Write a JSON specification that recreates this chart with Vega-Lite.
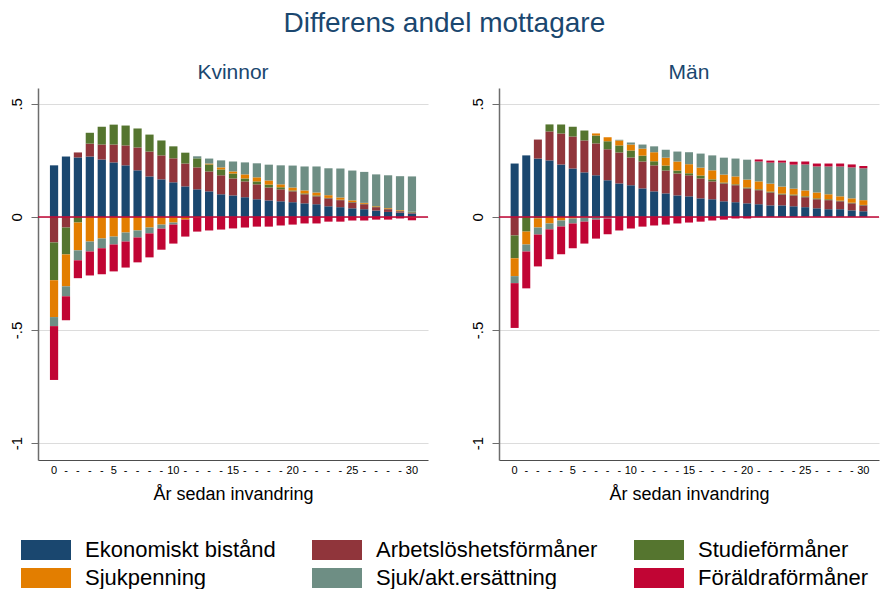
{
  "$schema": "https://vega.github.io/schema/vega-lite/v6.json",
  "padding": {"left": 8, "top": 10, "right": 0, "bottom": 0},
  "title": {"text": "Differens andel mottagare", "fontSize": 28, "fontWeight": "normal", "color": "#1a476f", "anchor": "middle", "offset": 24},
  "datasets": {
    "kat": [
      {"k": "ek", "typ": "Ekonomiskt bistånd", "o": 1},
      {"k": "arb", "typ": "Arbetslöshetsförmåner", "o": 2},
      {"k": "stu", "typ": "Studieförmåner", "o": 3},
      {"k": "sjp", "typ": "Sjukpenning", "o": 4},
      {"k": "sja", "typ": "Sjuk/akt.ersättning", "o": 5},
      {"k": "fo", "typ": "Föräldraförmåner", "o": 6}
    ],
    "d": [
      {"g": "Kvinnor", "ar": 0, "ek": 0.228, "arb": -0.113, "stu": -0.167, "sjp": -0.163, "sja": -0.040, "fo": -0.238},
      {"g": "Kvinnor", "ar": 1, "ek": 0.267, "arb": -0.047, "stu": -0.119, "sjp": -0.141, "sja": -0.044, "fo": -0.106},
      {"g": "Kvinnor", "ar": 2, "ek": 0.263, "arb": 0.022, "stu": -0.025, "sjp": -0.123, "sja": -0.044, "fo": -0.079},
      {"g": "Kvinnor", "ar": 3, "ek": 0.267, "arb": 0.057, "stu": 0.048, "sjp": -0.109, "sja": -0.044, "fo": -0.106},
      {"g": "Kvinnor", "ar": 4, "ek": 0.254, "arb": 0.066, "stu": 0.079, "sjp": -0.095, "sja": -0.044, "fo": -0.115},
      {"g": "Kvinnor", "ar": 5, "ek": 0.241, "arb": 0.079, "stu": 0.088, "sjp": -0.087, "sja": -0.035, "fo": -0.119},
      {"g": "Kvinnor", "ar": 6, "ek": 0.228, "arb": 0.088, "stu": 0.088, "sjp": -0.069, "sja": -0.040, "fo": -0.115},
      {"g": "Kvinnor", "ar": 7, "ek": 0.206, "arb": 0.101, "stu": 0.084, "sjp": -0.060, "sja": -0.031, "fo": -0.110},
      {"g": "Kvinnor", "ar": 8, "ek": 0.179, "arb": 0.110, "stu": 0.075, "sjp": -0.047, "sja": -0.026, "fo": -0.106},
      {"g": "Kvinnor", "ar": 9, "ek": 0.166, "arb": 0.106, "stu": 0.066, "sjp": -0.034, "sja": -0.018, "fo": -0.093},
      {"g": "Kvinnor", "ar": 10, "ek": 0.153, "arb": 0.106, "stu": 0.053, "sjp": -0.025, "sja": -0.009, "fo": -0.084},
      {"g": "Kvinnor", "ar": 11, "ek": 0.135, "arb": 0.101, "stu": 0.048, "sjp": -0.012, "sja": 0, "fo": -0.075},
      {"g": "Kvinnor", "ar": 12, "ek": 0.122, "arb": 0.097, "stu": 0.040, "sjp": -0.003, "sja": 0.009, "fo": -0.062},
      {"g": "Kvinnor", "ar": 13, "ek": 0.113, "arb": 0.088, "stu": 0.031, "sjp": 0.004, "sja": 0.022, "fo": -0.060},
      {"g": "Kvinnor", "ar": 14, "ek": 0.100, "arb": 0.084, "stu": 0.026, "sjp": 0.009, "sja": 0.031, "fo": -0.056},
      {"g": "Kvinnor", "ar": 15, "ek": 0.095, "arb": 0.075, "stu": 0.022, "sjp": 0.009, "sja": 0.044, "fo": -0.051},
      {"g": "Kvinnor", "ar": 16, "ek": 0.087, "arb": 0.070, "stu": 0.013, "sjp": 0.018, "sja": 0.053, "fo": -0.047},
      {"g": "Kvinnor", "ar": 17, "ek": 0.078, "arb": 0.066, "stu": 0.013, "sjp": 0.018, "sja": 0.062, "fo": -0.043},
      {"g": "Kvinnor", "ar": 18, "ek": 0.073, "arb": 0.057, "stu": 0.013, "sjp": 0.018, "sja": 0.070, "fo": -0.043},
      {"g": "Kvinnor", "ar": 19, "ek": 0.069, "arb": 0.053, "stu": 0.009, "sjp": 0.013, "sja": 0.084, "fo": -0.038},
      {"g": "Kvinnor", "ar": 20, "ek": 0.065, "arb": 0.048, "stu": 0.004, "sjp": 0.013, "sja": 0.097, "fo": -0.034},
      {"g": "Kvinnor", "ar": 21, "ek": 0.060, "arb": 0.040, "stu": 0.004, "sjp": 0.013, "sja": 0.106, "fo": -0.029},
      {"g": "Kvinnor", "ar": 22, "ek": 0.056, "arb": 0.035, "stu": 0.004, "sjp": 0.013, "sja": 0.115, "fo": -0.029},
      {"g": "Kvinnor", "ar": 23, "ek": 0.047, "arb": 0.035, "stu": 0.002, "sjp": 0.012, "sja": 0.119, "fo": -0.021},
      {"g": "Kvinnor", "ar": 24, "ek": 0.043, "arb": 0.031, "stu": 0.002, "sjp": 0.010, "sja": 0.128, "fo": -0.021},
      {"g": "Kvinnor", "ar": 25, "ek": 0.038, "arb": 0.026, "stu": 0.002, "sjp": 0.007, "sja": 0.132, "fo": -0.016},
      {"g": "Kvinnor", "ar": 26, "ek": 0.034, "arb": 0.022, "stu": 0.002, "sjp": 0.004, "sja": 0.137, "fo": -0.016},
      {"g": "Kvinnor", "ar": 27, "ek": 0.028, "arb": 0.015, "stu": 0.003, "sjp": 0.002, "sja": 0.140, "fo": -0.012},
      {"g": "Kvinnor", "ar": 28, "ek": 0.022, "arb": 0.012, "stu": 0.002, "sjp": 0.003, "sja": 0.145, "fo": -0.012},
      {"g": "Kvinnor", "ar": 29, "ek": 0.019, "arb": 0.006, "stu": 0.002, "sjp": 0.003, "sja": 0.150, "fo": -0.007},
      {"g": "Kvinnor", "ar": 30, "ek": 0.015, "arb": 0.004, "stu": 0.004, "sjp": -0.003, "sja": 0.156, "fo": -0.012},
      {"g": "Män", "ar": 0, "ek": 0.236, "arb": -0.082, "stu": -0.101, "sjp": -0.079, "sja": -0.031, "fo": -0.198},
      {"g": "Män", "ar": 1, "ek": 0.272, "arb": 0, "stu": -0.065, "sjp": -0.057, "sja": -0.031, "fo": -0.163},
      {"g": "Män", "ar": 2, "ek": 0.258, "arb": 0.084, "stu": -0.007, "sjp": -0.040, "sja": -0.031, "fo": -0.141},
      {"g": "Män", "ar": 3, "ek": 0.250, "arb": 0.128, "stu": 0.031, "sjp": -0.029, "sja": -0.026, "fo": -0.132},
      {"g": "Män", "ar": 4, "ek": 0.232, "arb": 0.137, "stu": 0.040, "sjp": -0.016, "sja": -0.026, "fo": -0.123},
      {"g": "Män", "ar": 5, "ek": 0.214, "arb": 0.141, "stu": 0.044, "sjp": -0.007, "sja": -0.022, "fo": -0.110},
      {"g": "Män", "ar": 6, "ek": 0.197, "arb": 0.141, "stu": 0.044, "sjp": -0.003, "sja": -0.018, "fo": -0.097},
      {"g": "Män", "ar": 7, "ek": 0.184, "arb": 0.141, "stu": 0.035, "sjp": 0.009, "sja": -0.012, "fo": -0.084},
      {"g": "Män", "ar": 8, "ek": 0.162, "arb": 0.137, "stu": 0.035, "sjp": 0.018, "sja": -0.007, "fo": -0.070},
      {"g": "Män", "ar": 9, "ek": 0.148, "arb": 0.137, "stu": 0.031, "sjp": 0.022, "sja": 0.003, "fo": -0.060},
      {"g": "Män", "ar": 10, "ek": 0.140, "arb": 0.123, "stu": 0.031, "sjp": 0.026, "sja": 0.009, "fo": -0.051},
      {"g": "Män", "ar": 11, "ek": 0.126, "arb": 0.119, "stu": 0.026, "sjp": 0.031, "sja": 0.018, "fo": -0.043},
      {"g": "Män", "ar": 12, "ek": 0.113, "arb": 0.115, "stu": 0.018, "sjp": 0.040, "sja": 0.026, "fo": -0.038},
      {"g": "Män", "ar": 13, "ek": 0.104, "arb": 0.101, "stu": 0.022, "sjp": 0.035, "sja": 0.035, "fo": -0.034},
      {"g": "Män", "ar": 14, "ek": 0.095, "arb": 0.097, "stu": 0.013, "sjp": 0.040, "sja": 0.044, "fo": -0.029},
      {"g": "Män", "ar": 15, "ek": 0.091, "arb": 0.093, "stu": 0.009, "sjp": 0.040, "sja": 0.053, "fo": -0.025},
      {"g": "Män", "ar": 16, "ek": 0.082, "arb": 0.088, "stu": 0.013, "sjp": 0.035, "sja": 0.062, "fo": -0.021},
      {"g": "Män", "ar": 17, "ek": 0.078, "arb": 0.079, "stu": 0.009, "sjp": 0.040, "sja": 0.066, "fo": -0.016},
      {"g": "Män", "ar": 18, "ek": 0.069, "arb": 0.079, "stu": 0.004, "sjp": 0.035, "sja": 0.075, "fo": -0.012},
      {"g": "Män", "ar": 19, "ek": 0.065, "arb": 0.075, "stu": 0.004, "sjp": 0.035, "sja": 0.079, "fo": -0.007},
      {"g": "Män", "ar": 20, "ek": 0.060, "arb": 0.066, "stu": 0.004, "sjp": 0.035, "sja": 0.088, "fo": -0.007},
      {"g": "Män", "ar": 21, "ek": 0.056, "arb": 0.062, "stu": 0.004, "sjp": 0.035, "sja": 0.088, "fo": 0.009},
      {"g": "Män", "ar": 22, "ek": 0.051, "arb": 0.057, "stu": 0.004, "sjp": 0.035, "sja": 0.093, "fo": 0.009},
      {"g": "Män", "ar": 23, "ek": 0.051, "arb": 0.048, "stu": 0.004, "sjp": 0.031, "sja": 0.106, "fo": 0.009},
      {"g": "Män", "ar": 24, "ek": 0.047, "arb": 0.048, "stu": 0.004, "sjp": 0.026, "sja": 0.106, "fo": 0.013},
      {"g": "Män", "ar": 25, "ek": 0.043, "arb": 0.044, "stu": 0.004, "sjp": 0.026, "sja": 0.115, "fo": 0.013},
      {"g": "Män", "ar": 26, "ek": 0.038, "arb": 0.040, "stu": 0.004, "sjp": 0.026, "sja": 0.115, "fo": 0.013},
      {"g": "Män", "ar": 27, "ek": 0.034, "arb": 0.040, "stu": 0.004, "sjp": 0.022, "sja": 0.123, "fo": 0.013},
      {"g": "Män", "ar": 28, "ek": 0.034, "arb": 0.035, "stu": 0.003, "sjp": 0.019, "sja": 0.132, "fo": 0.013},
      {"g": "Män", "ar": 29, "ek": 0.029, "arb": 0.031, "stu": 0.003, "sjp": 0.019, "sja": 0.137, "fo": 0.013},
      {"g": "Män", "ar": 30, "ek": 0.025, "arb": 0.026, "stu": 0.002, "sjp": 0.021, "sja": 0.141, "fo": 0.010}
    ]
  },
  "data": {"name": "d"},
  "transform": [
    {"fold": ["ek", "arb", "stu", "sjp", "sja", "fo"], "as": ["k", "v"]},
    {"lookup": "k", "from": {"data": {"name": "kat"}, "key": "k", "fields": ["typ", "o"]}}
  ],
  "spacing": 40,
  "resolve": {"scale": {"color": "shared"}, "legend": {"color": "shared"}},
  "hconcat": [
    {
      "width": 390,
      "height": 372,
      "title": {"text": "Kvinnor", "fontSize": 21, "fontWeight": "normal", "color": "#1a476f", "offset": 5},
      "transform": [{"filter": "datum.g == 'Kvinnor'"}],
      "layer": [
        {
          "mark": {"type": "bar"},
          "encoding": {
            "x": {"field": "ar", "type": "ordinal", "scale": {"paddingInner": 0.31, "paddingOuter": 1.466},
                  "axis": {"title": "År sedan invandring", "labelExpr": "datum.value % 5 == 0 ? datum.label : '-'"}},
            "y": {"field": "v", "type": "quantitative", "stack": "zero",
                  "scale": {"domain": [-1.075, 0.57], "nice": false, "zero": false},
                  "axis": {"title": null, "values": [-1, -0.5, 0, 0.5],
                           "labelExpr": "datum.value == 0.5 ? '.5' : datum.value == -0.5 ? '-.5' : datum.value == -1 ? '-1' : '0'"}},
            "color": {"field": "typ", "type": "nominal",
                      "scale": {"domain": ["Ekonomiskt bistånd", "Arbetslöshetsförmåner", "Studieförmåner", "Sjukpenning", "Sjuk/akt.ersättning", "Föräldraförmåner"],
                                "range": ["#1a476f", "#90353b", "#55752f", "#e37e00", "#6e8e84", "#c10534"]},
                      "legend": {"orient": "none", "legendX": -3, "legendY": 451, "direction": "horizontal", "columns": 3, "title": null,
                                 "symbolType": "M-2.5,-1H2.5V1H-2.5Z", "symbolSize": 400, "symbolStrokeWidth": 0, "symbolOpacity": 1,
                                 "labelFontSize": 22, "labelLimit": 400, "labelOffset": 28, "columnPadding": 36, "rowPadding": 6, "labelColor": "#000000"}},
            "order": {"field": "o", "type": "quantitative"}
          }
        },
        {
          "data": {"values": [{}]},
          "mark": {"type": "rule", "color": "#c10534", "strokeWidth": 1.5},
          "encoding": {"y": {"datum": 0}}
        }
      ]
    },
    {
      "width": 380,
      "height": 372,
      "title": {"text": "Män", "fontSize": 21, "fontWeight": "normal", "color": "#1a476f", "offset": 5},
      "transform": [{"filter": "datum.g == 'Män'"}],
      "layer": [
        {
          "mark": {"type": "bar"},
          "encoding": {
            "x": {"field": "ar", "type": "ordinal", "scale": {"paddingInner": 0.31, "paddingOuter": 1.035},
                  "axis": {"title": "År sedan invandring", "labelExpr": "datum.value % 5 == 0 ? datum.label : '-'"}},
            "y": {"field": "v", "type": "quantitative", "stack": "zero",
                  "scale": {"domain": [-1.075, 0.57], "nice": false, "zero": false},
                  "axis": {"title": null, "values": [-1, -0.5, 0, 0.5],
                           "labelExpr": "datum.value == 0.5 ? '.5' : datum.value == -0.5 ? '-.5' : datum.value == -1 ? '-1' : '0'"}},
            "color": {"field": "typ", "type": "nominal",
                      "scale": {"domain": ["Ekonomiskt bistånd", "Arbetslöshetsförmåner", "Studieförmåner", "Sjukpenning", "Sjuk/akt.ersättning", "Föräldraförmåner"],
                                "range": ["#1a476f", "#90353b", "#55752f", "#e37e00", "#6e8e84", "#c10534"]}},
            "order": {"field": "o", "type": "quantitative"}
          }
        },
        {
          "data": {"values": [{}]},
          "mark": {"type": "rule", "color": "#c10534", "strokeWidth": 1.5},
          "encoding": {"y": {"datum": 0}}
        }
      ]
    }
  ],
  "config": {
    "font": "Liberation Sans",
    "view": {"stroke": null},
    "axisX": {"ticks": false, "grid": false, "domainColor": "#4d4d4d", "domainWidth": 1.2, "labelAngle": 0, "labelFontSize": 11, "labelColor": "#000000", "labelPadding": 4,
              "titleFontSize": 18, "titleFontWeight": "normal", "titleColor": "#000000", "titlePadding": 10},
    "axisY": {"domainColor": "#6d6d6d", "domainWidth": 1.5, "tickColor": "#6d6d6d", "tickSize": 7, "grid": true, "gridColor": "#dcdcdc", "gridWidth": 1.2,
              "labelAngle": 270, "labelAlign": "center", "labelBaseline": "alphabetic", "labelFontSize": 15, "labelColor": "#000000", "labelPadding": 10}
  }
}
